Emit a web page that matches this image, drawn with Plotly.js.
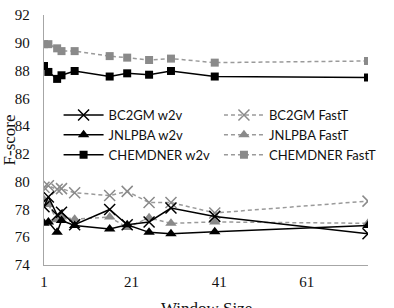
<!DOCTYPE html>
<html>
<head>
<meta charset="utf-8">
<script src="https://cdn.plot.ly/plotly-3.0.1.min.js"></script>
<style>
  html, body { margin: 0; padding: 0; background: #fff; }
  #chart { width: 394px; height: 308px; }
</style>
</head>
<body>
<div id="chart"></div>
<script>
// Window sizes on the x axis
const windowSizes = [1, 2, 4, 5, 8, 16, 20, 25, 30, 40, 75];

// F-scores per corpus and embedding method
const bc2gmW2v       = [78.2, 78.9, 77.6, 77.8, 76.9, 78.0, 76.9, 77.1, 78.1, 77.5, 76.25];
const jnlpbaW2v      = [77.0, 77.1, 76.35, 77.2, 76.85, 76.6, 76.9, 76.35, 76.25, 76.4, 76.85];
const chemdnerW2v    = [88.33, 87.9, 87.4, 87.66, 87.97, 87.57, 87.8, 87.7, 87.97, 87.57, 87.5];
const bc2gmFastT     = [79.6, 79.7, 79.45, 79.5, 79.2, 79.0, 79.3, 78.5, 78.5, 77.75, 78.6];
const jnlpbaFastT    = [78.7, 78.35, 77.25, 77.45, 77.3, 77.45, 76.7, 77.4, 77.0, 77.1, 77.0];
const chemdnerFastT  = [89.9, 89.9, 89.6, 89.4, 89.4, 89.04, 88.93, 88.76, 88.86, 88.57, 88.69];

// Axis ticks
const xTicks = [1, 21, 41, 61];
const yTicks = [74, 76, 78, 80, 82, 84, 86, 88, 90, 92];

const black = '#000000';
const grey = '#8a8a8a';
const greyLine = '#9a9a9a';

function solid(name, y, symbol, size, legend) {
  return {
    type: 'scatter', mode: 'lines+markers', name: name,
    x: windowSizes, y: y, legend: legend,
    line: { color: black, width: 1.5 },
    marker: { symbol: symbol, size: size, color: black,
              line: { color: black, width: symbol === 'x-thin-open' ? 1.5 : 0 } }
  };
}
function dashed(name, y, symbol, size, legend) {
  return {
    type: 'scatter', mode: 'lines+markers', name: name,
    x: windowSizes, y: y, legend: legend,
    line: { color: greyLine, width: 1.5, dash: '4px,3px' },
    marker: { symbol: symbol, size: size, color: grey,
              line: { color: grey, width: symbol === 'x-thin-open' ? 1.5 : 0 } }
  };
}

const traces = [
  dashed('BC2GM FastT', bc2gmFastT, 'x-thin-open', 11, 'legend2'),
  dashed('JNLPBA FastT', jnlpbaFastT, 'triangle-up', 10, 'legend2'),
  dashed('CHEMDNER FastT', chemdnerFastT, 'square', 8, 'legend2'),
  solid('BC2GM w2v', bc2gmW2v, 'x-thin-open', 11, 'legend'),
  solid('JNLPBA w2v', jnlpbaW2v, 'triangle-up', 10, 'legend'),
  solid('CHEMDNER w2v', chemdnerW2v, 'square', 8, 'legend')
];

const serif = 'Liberation Serif, Times New Roman, serif';
const legendFont = { family: 'Lato, Liberation Sans, sans-serif', size: 13, color: '#111' };

const layout = {
  width: 394, height: 308,
  margin: { l: 44, r: 13, t: 15, b: 43 },
  paper_bgcolor: '#fff', plot_bgcolor: '#fff',
  showlegend: true,
  xaxis: {
    range: [1, 75], tickvals: xTicks, ticktext: xTicks.map(String),
    showgrid: false, zeroline: false,
    showline: true, linecolor: '#a6a6a6', linewidth: 1.3,
    ticks: '', ticklabelstandoff: 3,
    tickfont: { family: serif, size: 15, color: '#111' }
  },
  yaxis: {
    range: [74, 92], tickvals: yTicks,
    showgrid: false, zeroline: false,
    showline: true, linecolor: '#a6a6a6', linewidth: 1.3,
    ticks: '', ticklabelstandoff: 10,
    tickfont: { family: serif, size: 15, color: '#111' },
    title: { text: 'F-score', font: { family: serif, size: 17, color: '#111' }, standoff: 8 }
  },
  // x-axis title sits low, partly below the page edge
  annotations: [{
    text: 'Window Size', xref: 'paper', yref: 'paper',
    x: 0.5, y: -0.128, xanchor: 'center', yanchor: 'top',
    showarrow: false,
    font: { family: serif, size: 17, color: '#111' }
  }],
  legend: {
    x: 0.045, y: 0.66, xanchor: 'left', yanchor: 'top',
    bgcolor: 'rgba(0,0,0,0)', itemwidth: 40, tracegroupgap: 0,
    traceorder: 'normal',
    font: legendFont
  },
  legend2: {
    x: 0.54, y: 0.66, xanchor: 'left', yanchor: 'top',
    bgcolor: 'rgba(0,0,0,0)', itemwidth: 40, tracegroupgap: 0,
    traceorder: 'normal',
    font: legendFont
  }
};

Plotly.newPlot('chart', traces, layout, { displayModeBar: false, staticPlot: true });
</script>
</body>
</html>
